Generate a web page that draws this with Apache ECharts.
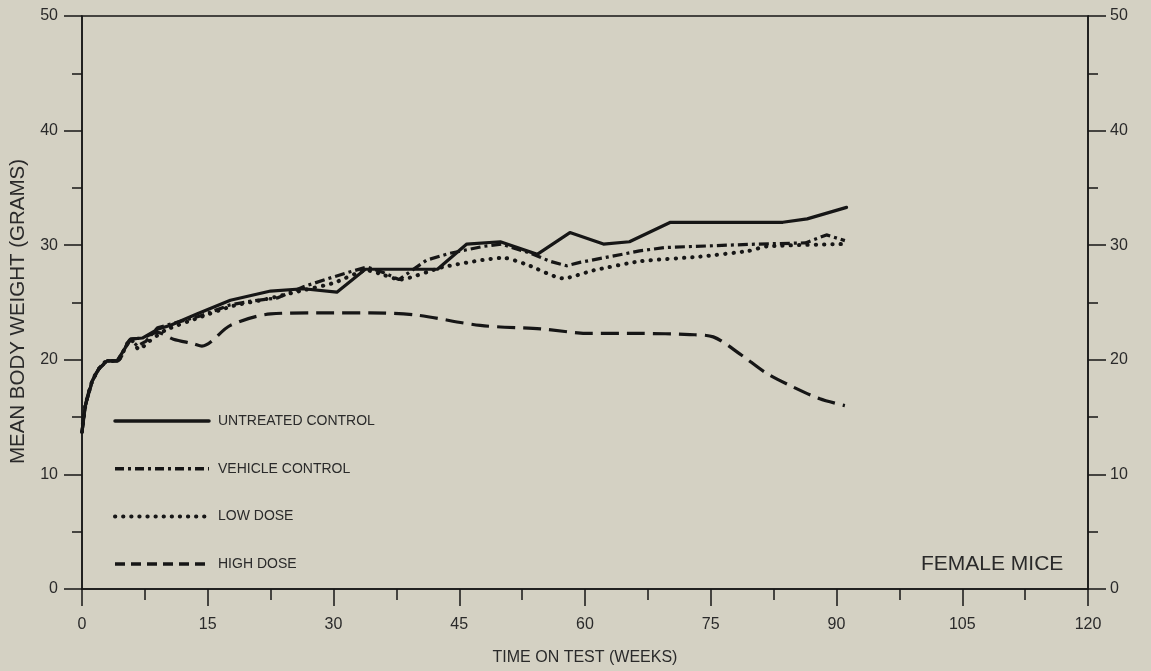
<!DOCTYPE html>
<html>
<head>
<meta charset="utf-8">
<script src="https://cdn.jsdelivr.net/npm/echarts@6/dist/echarts.min.js"></script>
<style>
html,body{margin:0;padding:0;background:#d4d1c3;}
#chart{width:1151px;height:671px;}
</style>
</head>
<body>
<div id="chart"></div>
<script>
// ---- data (weeks on test, mean body weight in grams) ----
const seriesNames = ['UNTREATED CONTROL', 'VEHICLE CONTROL', 'LOW DOSE', 'HIGH DOSE'];

const untreatedWeeks  = [0, 0.4, 1.2, 2.0, 3.0, 4.2, 5.8, 7.2, 9.1, 10.5, 13.7, 17.7, 22.5, 26.4, 30.4, 33.8, 42.4, 45.9, 49.9, 54.3, 58.2, 62.2, 65.3, 70.2, 83.6, 86.5, 91.2];
const untreatedValues = [13.7, 16.0, 18.1, 19.2, 19.9, 19.9, 21.8, 21.9, 22.7, 23.0, 24.0, 25.2, 26.0, 26.2, 25.9, 27.9, 27.9, 30.1, 30.3, 29.2, 31.1, 30.1, 30.3, 32.0, 32.0, 32.3, 33.3];

const vehicleWeeks  = [0, 0.4, 1.2, 2.0, 3.0, 4.2, 5.8, 6.6, 7.6, 9.0, 11.0, 14.0, 17.7, 20.0, 23.3, 26.5, 29.0, 31.6, 34.0, 36.0, 37.8, 41.1, 43.9, 47.9, 50.0, 53.5, 55.8, 57.8, 59.4, 66.5, 69.6, 80.7, 86.3, 88.8, 91.0];
const vehicleValues = [13.7, 16.0, 18.1, 19.2, 19.9, 19.9, 21.8, 21.2, 21.6, 22.8, 23.2, 23.8, 24.8, 25.1, 25.4, 26.4, 27.0, 27.6, 28.1, 27.6, 27.0, 28.7, 29.3, 29.9, 30.1, 29.3, 28.6, 28.2, 28.5, 29.5, 29.8, 30.1, 30.2, 30.9, 30.4];

const lowWeeks  = [0, 0.4, 1.2, 2.0, 3.0, 4.2, 5.8, 6.8, 8.0, 10.0, 14.0, 18.0, 22.0, 26.0, 30.0, 34.0, 36.0, 37.9, 43.1, 50.3, 53.1, 57.4, 61.0, 66.6, 73.7, 79.5, 81.7, 90.8];
const lowValues = [13.7, 16.0, 18.1, 19.2, 19.9, 19.9, 21.8, 20.9, 21.6, 22.6, 23.7, 24.7, 25.3, 26.0, 26.7, 27.8, 27.4, 27.0, 28.1, 28.9, 28.3, 27.1, 27.8, 28.6, 29.0, 29.5, 29.9, 30.1];

const highWeeks  = [0, 0.4, 1.2, 2.0, 3.0, 4.2, 5.8, 7.2, 9.0, 10.9, 13.3, 14.3, 17.7, 22.5, 28.0, 34.4, 39.9, 47.5, 54.7, 60.6, 66.6, 72.5, 75.3, 78.5, 81.7, 84.9, 88.0, 91.0];
const highValues = [13.7, 16.0, 18.1, 19.2, 19.9, 19.9, 21.8, 21.9, 22.4, 21.8, 21.4, 21.2, 23.0, 24.0, 24.1, 24.1, 23.9, 23.0, 22.7, 22.3, 22.3, 22.2, 22.0, 20.5, 18.8, 17.6, 16.6, 16.0];

const xTicks = [0, 15, 30, 45, 60, 75, 90, 105, 120];
const yTicks = [0, 10, 20, 30, 40, 50];
const panelLabel = 'FEMALE MICE';

// ---- chart ----
function pairs(xs, ys) { return xs.map((x, i) => [x, ys[i]]); }

const INK = '#161616';
const TXT = '#2a2a2a';
const FONT = '"Liberation Sans", Arial, Helvetica, sans-serif';

const styles = [
  {color: INK, width: 3.2, type: 'solid', cap: 'round', join: 'round'},
  {color: INK, width: 3.2, type: [10, 4, 3, 4], cap: 'butt'},
  {color: INK, width: 4, type: [0.3, 8], cap: 'round'},
  {color: INK, width: 3.2, type: [18, 8], cap: 'butt'}
];
const legendStyles = [
  {color: INK, width: 3.5, type: 'solid'},
  {color: INK, width: 3.5, type: [9, 4, 3, 4]},
  {color: INK, width: 4, type: [0.3, 7.8], cap: 'round'},
  {color: INK, width: 3.5, type: [10, 6]}
];

const chart = echarts.init(document.getElementById('chart'), null, {renderer: 'canvas'});

function yAxisDef(pos, margin) {
  return {
    type: 'value', position: pos, min: yTicks[0], max: yTicks[yTicks.length - 1], interval: 10,
    axisLine: {show: true, lineStyle: {color: INK, width: 1.5}},
    axisTick: {show: true, length: 18, lineStyle: {color: INK, width: 1.5}},
    minorTick: {show: true, splitNumber: 2, length: 10, lineStyle: {color: INK, width: 1.5}},
    splitLine: {show: false}, minorSplitLine: {show: false},
    axisLabel: {margin: margin, fontSize: 16, color: TXT, fontFamily: FONT, padding: [3, 0, 0, 0]}
  };
}

const left = yAxisDef('left', 24);
left.name = 'MEAN BODY WEIGHT (GRAMS)';
left.nameLocation = 'middle';
left.nameGap = 53;
left.nameTextStyle = {fontSize: 20.5, color: TXT, fontFamily: FONT, padding: [0, 18, 0, 0]};
const right = yAxisDef('right', 22);

const lineBase = {type: 'line', symbol: 'none', showSymbol: false, animation: false, z: 3};

chart.setOption({
  backgroundColor: '#d4d1c3',
  animation: false,
  grid: {left: 82, right: 63, top: 16, bottom: 80, show: true, borderColor: INK, borderWidth: 1.5, backgroundColor: 'transparent'},
  xAxis: {
    type: 'value', min: xTicks[0], max: xTicks[xTicks.length - 1], interval: 15,
    axisLine: {show: true, lineStyle: {color: INK, width: 1.5}},
    axisTick: {show: true, length: 17, lineStyle: {color: INK, width: 1.5}},
    minorTick: {show: true, splitNumber: 2, length: 11, lineStyle: {color: INK, width: 1.5}},
    splitLine: {show: false}, minorSplitLine: {show: false},
    axisLabel: {margin: 28, fontSize: 16, color: TXT, fontFamily: FONT},
    name: 'TIME ON TEST (WEEKS)', nameLocation: 'middle', nameGap: 61,
    nameTextStyle: {fontSize: 16, color: TXT, fontFamily: FONT}
  },
  yAxis: [left, right],
  legend: {
    orient: 'vertical', left: 113, top: 414, padding: 0, itemWidth: 94, itemHeight: 14, itemGap: 33.7,
    itemStyle: {color: 'transparent', borderColor: 'transparent', borderWidth: 0},
    data: seriesNames.map((n, i) => ({name: n, lineStyle: legendStyles[i],
      itemStyle: {color: 'transparent', borderColor: 'transparent', borderWidth: 0}})),
    textStyle: {fontSize: 14, color: TXT, fontFamily: FONT, padding: [0, 0, 0, 4]}
  },
  graphic: [{
    type: 'text', left: 921, top: 554,
    style: {text: panelLabel, font: '21px "Liberation Sans", Arial, sans-serif', fill: TXT}
  }],
  series: [
    Object.assign({}, lineBase, {name: seriesNames[0], data: pairs(untreatedWeeks, untreatedValues),
      lineStyle: styles[0], itemStyle: {color: INK}, z: 5}),
    Object.assign({}, lineBase, {name: seriesNames[1], data: pairs(vehicleWeeks, vehicleValues),
      lineStyle: styles[1], itemStyle: {color: INK}, z: 4}),
    Object.assign({}, lineBase, {name: seriesNames[2], data: pairs(lowWeeks, lowValues), smooth: 0.2,
      lineStyle: styles[2], itemStyle: {color: INK}}),
    Object.assign({}, lineBase, {name: seriesNames[3], data: pairs(highWeeks, highValues), smooth: 0.3,
      lineStyle: styles[3], itemStyle: {color: INK}})
  ]
});
</script>
</body>
</html>
